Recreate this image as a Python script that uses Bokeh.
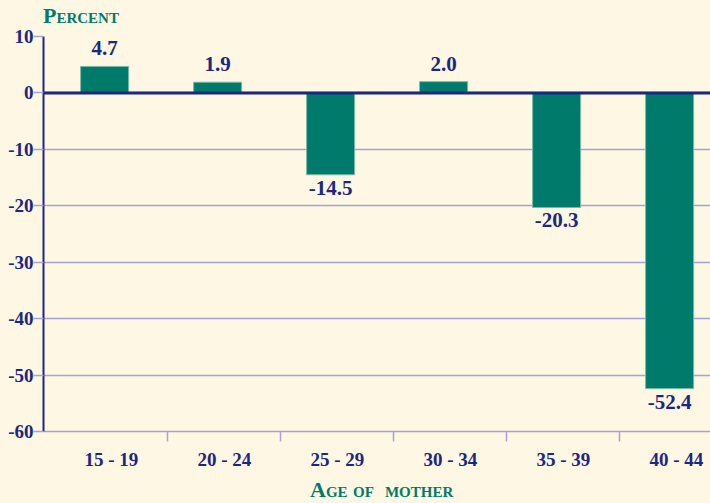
from bokeh.plotting import figure
from bokeh.models import FixedTicker, Span, ColumnDataSource, Range1d, Div
from bokeh.layouts import column
from bokeh.core.properties import value
from bokeh.embed import file_html
from bokeh.resources import INLINE

categories = ["15 - 19", "20 - 24", "25 - 29", "30 - 34", "35 - 39", "40 - 44"]
values = [4.7, 1.9, -14.5, 2.0, -20.3, -52.4]
y_ticks = [10, 0, -10, -20, -30, -40, -50, -60]
y_title = "Percent"
x_title = "Age of&nbsp; mother"

BG = "#fdf7e3"
TEAL = "#007b6b"
NAVY = "#1c2780"
LAV = "#a9a2d2"
FONT = "Liberation Serif"

idx = list(range(len(categories)))
bar_x = [i - 0.03 for i in idx]
label_x = [i + 0.03 for i in idx]

p = figure(width=710, height=447, output_backend="svg", toolbar_location=None,
           x_range=Range1d(-0.571, 5.332), y_range=Range1d(-60, 10),
           min_border_left=43, min_border_right=0, min_border_top=11, min_border_bottom=40)
p.background_fill_color = BG
p.border_fill_color = BG
p.outline_line_color = None
p.xgrid.grid_line_color = None
p.ygrid.grid_line_color = LAV
p.ygrid.grid_line_width = 1.5
p.ygrid.ticker = FixedTicker(ticks=y_ticks)

src = ColumnDataSource(dict(x=bar_x, top=values))
p.vbar(x="x", top="top", bottom=0, width=0.425, source=src,
       fill_color=TEAL, line_color="#7bb8a8", line_width=1)

pos = [i for i, v in enumerate(values) if v >= 0]
neg = [i for i, v in enumerate(values) if v < 0]
psrc = ColumnDataSource(dict(x=[bar_x[i] for i in pos], y=[values[i] for i in pos],
                             t=[f"{values[i]:.1f}" for i in pos]))
nsrc = ColumnDataSource(dict(x=[bar_x[i] for i in neg], y=[values[i] for i in neg],
                             t=[f"{values[i]:.1f}" for i in neg]))
for s, base, off in ((psrc, "alphabetic", -18), (nsrc, "top", 6)):
    p.text(x="x", y="y", text="t", source=s, text_align="center", text_baseline=base,
           y_offset=off, text_font=value(FONT), text_font_style="bold",
           text_font_size="21px", text_color=NAVY)

p.add_layout(Span(location=0, dimension="width", line_color=NAVY, line_width=3))

# y axis
ya = p.yaxis[0]
ya.ticker = FixedTicker(ticks=y_ticks)
ya.major_label_overrides = {t: str(t) for t in y_ticks}
ya.axis_line_color = NAVY
ya.axis_line_width = 2
ya.major_tick_in = 0
ya.major_tick_out = 10
ya.major_tick_line_color = LAV
ya.major_tick_line_width = 1.5
ya.minor_tick_line_color = None
ya.major_label_standoff = 0
ya.major_label_text_font = FONT
ya.major_label_text_font_style = "bold"
ya.major_label_text_font_size = "19px"
ya.major_label_text_color = NAVY

# x axis
xa = p.xaxis[0]
xa.ticker = FixedTicker(ticks=label_x, minor_ticks=[i + 0.53 for i in idx[:-1]])
xa.major_label_overrides = {lx: c for lx, c in zip(label_x, categories)}
xa.axis_line_color = LAV
xa.axis_line_width = 1.5
xa.major_tick_in = 0
xa.major_tick_out = 0
xa.minor_tick_in = 0
xa.minor_tick_out = 10
xa.minor_tick_line_color = LAV
xa.minor_tick_line_width = 1.5
xa.major_label_standoff = 7
xa.major_label_text_font = FONT
xa.major_label_text_font_style = "bold"
xa.major_label_text_font_size = "19px"
xa.major_label_text_color = NAVY

style = ("font-family:'Liberation Serif';font-weight:bold;font-variant:small-caps;"
         f"color:{TEAL};font-size:22px;line-height:13px;white-space:nowrap;")
top = Div(text=f'<div style="{style}padding:9px 0 0 43px;">{y_title}</div>',
          width=710, height=25, margin=(0, 0, 0, 0),
          styles={"background-color": BG})
bot = Div(text=f'<div style="{style}padding:11px 0 0 310px;">{x_title}</div>',
          width=710, height=31, margin=(0, 0, 0, 0),
          styles={"background-color": BG})

layout = column(top, p, bot, spacing=0, margin=(0, 0, 0, 0),
                styles={"background-color": BG})
open("out.html", "w").write(file_html(layout, INLINE))
